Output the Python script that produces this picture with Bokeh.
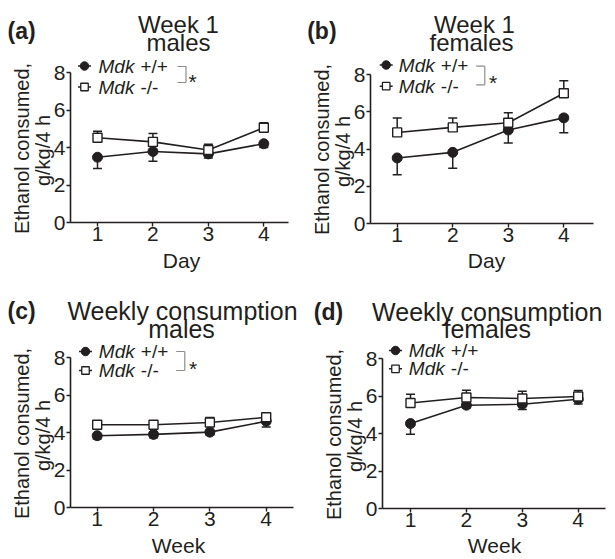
import math
from bokeh.plotting import figure
from bokeh.layouts import gridplot
from bokeh.models import (Label, Whisker, TeeHead, FixedTicker, ColumnDataSource,
                          Range1d)
from bokeh.embed import file_html
from bokeh.resources import INLINE

# ---------------- data ----------------
days = [1, 2, 3, 4]
weeks = [1, 2, 3, 4]
y_ticks = [0, 2, 4, 6, 8]

a_wt = [3.48, 3.79, 3.66, 4.20]
a_wt_sem = [0.60, 0.52, 0.22, 0.20]
a_ko = [4.52, 4.30, 3.87, 5.05]
a_ko_sem = [0.35, 0.45, 0.30, 0.27]

b_wt = [3.52, 3.82, 5.02, 5.67]
b_wt_sem = [0.90, 0.86, 0.70, 0.80]
b_ko = [4.89, 5.16, 5.41, 6.99]
b_ko_sem = [0.78, 0.50, 0.53, 0.68]

c_wt = [3.83, 3.90, 4.02, 4.60]
c_wt_sem = [0.18, 0.18, 0.15, 0.30]
c_ko = [4.41, 4.41, 4.53, 4.81]
c_ko_sem = [0.10, 0.12, 0.27, 0.25]

d_wt = [4.53, 5.51, 5.56, 5.83]
d_wt_sem = [0.57, 0.15, 0.28, 0.25]
d_ko = [5.63, 5.92, 5.87, 5.97]
d_ko_sem = [0.47, 0.39, 0.38, 0.33]

INK = "#231f20"
FONT = "Liberation Sans"


def build(g, xs, wt, wt_sem, ko, ko_sem, texts):
    ppx = (g["xt4"] - g["xt1"]) / 3.0
    ppy = (g["fb"] - g["y8"]) / 8.0
    x0 = 1 - (g["xt1"] - g["ox"]) / ppx
    x1 = 1 + (g["ox"] + g["W"] - g["xt1"]) / ppx
    y0 = -(g["oy"] + g["H"] - g["fb"]) / ppy
    y1 = (g["fb"] - g["oy"]) / ppy

    def X(px):
        return x0 + (px - g["ox"]) / ppx

    def Y(py):
        return (g["fb"] - py) / ppy

    p = figure(width=g["W"], height=g["H"], title=None, toolbar_location=None,
               output_backend="svg",
               x_range=Range1d(x0, x1), y_range=Range1d(y0, y1), min_border=0)
    p.outline_line_color = None
    p.grid.visible = False
    p.background_fill_color = "white"
    p.border_fill_color = "white"

    for ax in (p.xaxis[0], p.yaxis[0]):
        ax.axis_line_color = INK
        ax.axis_line_width = 1.6
        ax.major_tick_line_color = INK
        ax.major_tick_line_width = 1.4
        ax.major_tick_in = 0
        ax.major_tick_out = 4
        ax.minor_tick_line_color = None
        ax.major_label_text_font = FONT
        ax.major_label_text_font_size = "21px"
        ax.major_label_text_color = INK
    p.xaxis.ticker = FixedTicker(ticks=xs)
    p.yaxis.ticker = FixedTicker(ticks=y_ticks)
    p.yaxis.bounds = (0, 8)
    p.xaxis.bounds = (X(g["fl"]), X(g["fr"]))
    p.yaxis.fixed_location = X(g["fl"])
    p.xaxis.fixed_location = 0
    p.xaxis.major_label_standoff = 0
    p.yaxis.major_label_standoff = 1

    # error bars: WT downwards, KO upwards
    src_wt = ColumnDataSource(dict(x=xs, lo=[v - s for v, s in zip(wt, wt_sem)], up=wt))
    src_ko = ColumnDataSource(dict(x=xs, lo=ko, up=[v + s for v, s in zip(ko, ko_sem)]))
    p.add_layout(Whisker(source=src_wt, base="x", lower="lo", upper="up",
                         line_color=INK, line_width=1.5, upper_head=None,
                         lower_head=TeeHead(size=9, line_color=INK, line_width=1.5)))
    p.add_layout(Whisker(source=src_ko, base="x", lower="lo", upper="up",
                         line_color=INK, line_width=1.5, lower_head=None,
                         upper_head=TeeHead(size=9, line_color=INK, line_width=1.5)))

    p.line(xs, wt, line_color=INK, line_width=1.6)
    p.line(xs, ko, line_color=INK, line_width=1.6)
    p.scatter(xs, wt, marker="circle", size=10, fill_color=INK, line_color=INK)
    p.scatter(xs, ko, marker="square", size=9, fill_color="white", line_color=INK,
              line_width=1.4)

    # legend
    lg = texts["legend"]
    for (mx, my), mk in ((lg["c"], "circle"), (lg["s"], "square")):
        p.segment(X(mx - 6.5), Y(my), X(mx + 6.5), Y(my), line_color=INK, line_width=1.5)
        if mk == "circle":
            p.scatter([X(mx)], [Y(my)], marker="circle", size=8.5, fill_color=INK, line_color=INK)
        else:
            p.scatter([X(mx)], [Y(my)], marker="square", size=7.5, fill_color="white",
                      line_color=INK, line_width=1.3)
    for (mx, my), suffix in ((lg["c"], "+/+"), (lg["s"], "-/-")):
        p.add_layout(Label(x=X(lg["tx"]), y=Y(my), text="Mdk", text_font=FONT,
                           text_font_style="italic", text_font_size="19px", text_color=INK,
                           text_baseline="middle", text_align="left"))
        p.add_layout(Label(x=X(lg["tx"] + 42), y=Y(my), text=suffix, text_font=FONT,
                           text_font_size="19px", text_color=INK,
                           text_baseline="middle", text_align="left"))
    if "br" in texts:
        bx, btop, bbot, bleft, sx, sy = texts["br"]
        p.segment([X(bleft), X(bx), X(bleft)], [Y(btop), Y(btop), Y(bbot)],
                  [X(bx), X(bx), X(bx)], [Y(btop), Y(bbot), Y(bbot)],
                  line_color="#8c8c8c", line_width=1.2)
        p.add_layout(Label(x=X(sx), y=Y(sy), text="*", text_font=FONT, text_font_size="21px",
                           text_color=INK, text_align="center", text_baseline="alphabetic"))

    # panel letter and titles
    lx, ly, letter = texts["letter"]
    p.add_layout(Label(x=X(lx), y=Y(ly), text=letter, text_font=FONT, text_font_style="bold",
                       text_font_size="23px", text_color=INK, text_align="left",
                       text_baseline="alphabetic"))
    for (tx, ty, t, fs) in texts["title"]:
        p.add_layout(Label(x=X(tx), y=Y(ty), text=t, text_font=FONT, text_font_size=fs,
                           text_color=INK, text_align="center", text_baseline="alphabetic"))
    # y-axis title (two lines)
    for (tx, ty, t) in texts["ytitle"]:
        p.add_layout(Label(x=X(tx), y=Y(ty), text=t, text_font=FONT, text_font_size="20px",
                           text_color=INK, text_align="center", text_baseline="alphabetic",
                           angle=math.pi / 2))
    # x-axis title
    tx, ty, t = texts["xtitle"]
    p.add_layout(Label(x=X(tx), y=Y(ty), text=t, text_font=FONT, text_font_size="21px",
                       text_color=INK, text_align="center", text_baseline="alphabetic"))
    return p


ga = dict(fl=70, fr=288, fb=222, xt1=97, xt4=263.3, y8=72, ox=0, oy=0, W=300, H=280)
gb = dict(fl=370, fr=593, fb=223, xt1=396.7, xt4=563.3, y8=74, ox=300, oy=0, W=315, H=280)
gc = dict(fl=70, fr=293, fb=507, xt1=96.7, xt4=265.7, y8=357, ox=0, oy=280, W=300, H=279)
gd = dict(fl=382, fr=605, fb=508, xt1=410, xt4=577.7, y8=358, ox=300, oy=280, W=315, H=279)

ta = dict(letter=(7, 30, "(a)"),
          title=[(178, 24, "Week 1", "24px"), (178, 42, "males", "24px")],
          ytitle=[(21, 148, "Ethanol consumed,"), (42, 150, "g/kg/4 h")],
          xtitle=(181, 260, "Day"),
          legend=dict(c=(84, 65.5), s=(84, 86.5), tx=98),
          br=(185.5, 66, 82, 177, 192, 81))
tb = dict(letter=(306.7, 30, "(b)"),
          title=[(474, 24, "Week 1", "24px"), (471, 42, "females", "24px")],
          ytitle=[(321, 149, "Ethanol consumed,"), (342, 151, "g/kg/4 h")],
          xtitle=(486, 260, "Day"),
          legend=dict(c=(385.7, 64.5), s=(385.7, 85.7), tx=398.3),
          br=(484.3, 65.7, 84.3, 475.7, 492.7, 82))
tc = dict(letter=(7, 310, "(c)"),
          title=[(182, 310, "Weekly consumption", "25px"), (181, 328, "males", "25px")],
          ytitle=[(21, 433, "Ethanol consumed,"), (42, 435, "g/kg/4 h")],
          xtitle=(178, 545, "Week"),
          legend=dict(c=(85, 351), s=(85, 370), tx=98.3),
          br=(184.3, 351, 370, 175.7, 192.7, 368))
td = dict(letter=(313.3, 311, "(d)"),
          title=[(486.7, 311, "Weekly consumption", "25px"), (486.7, 328, "females", "25px")],
          ytitle=[(333, 434, "Ethanol consumed,"), (354, 436, "g/kg/4 h")],
          xtitle=(494, 545, "Week"),
          legend=dict(c=(395, 350), s=(395, 368.3), tx=408.3))

pa = build(ga, days, a_wt, a_wt_sem, a_ko, a_ko_sem, ta)
pb = build(gb, days, b_wt, b_wt_sem, b_ko, b_ko_sem, tb)
pc = build(gc, weeks, c_wt, c_wt_sem, c_ko, c_ko_sem, tc)
pd_ = build(gd, weeks, d_wt, d_wt_sem, d_ko, d_ko_sem, td)

grid = gridplot([[pa, pb], [pc, pd_]], toolbar_location=None)
open("out.html", "w").write(file_html(grid, INLINE))
